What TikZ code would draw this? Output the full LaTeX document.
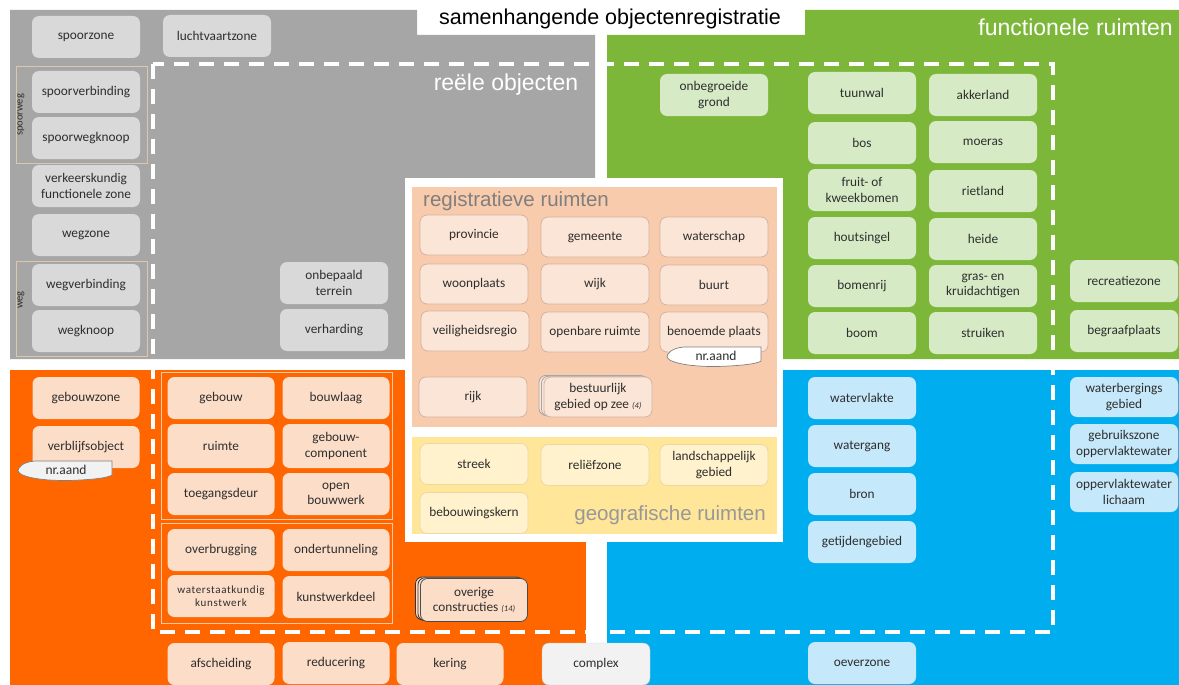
\documentclass[tikz,border=0pt]{standalone}
\usepackage{fontspec}
\setmainfont{Carlito}
\newfontfamily\headfont{Liberation Sans}
\newfontfamily\spacedfont[LetterSpace=6]{Carlito}
\usetikzlibrary{shadows}
\newcommand\countnote[1]{{\fontsize{8.5}{9}\selectfont\itshape #1}}

\definecolor{zGray}{HTML}{A6A6A6}
\definecolor{zGreen}{HTML}{7CB73A}
\definecolor{zOrange}{HTML}{FF6600}
\definecolor{zBlue}{HTML}{00ADEF}
\definecolor{zReg}{HTML}{F8CBAD}
\definecolor{zGeo}{HTML}{FFE699}
\definecolor{cGrayObj}{HTML}{D9D9D9}
\definecolor{cGreenObj}{HTML}{D6EBC5}
\definecolor{cOrangeObj}{HTML}{FCDDC8}
\definecolor{cBlueObj}{HTML}{C5E8FA}
\definecolor{cRegObj}{HTML}{FBE5D6}
\definecolor{cGeoObj}{HTML}{FFF2CC}
\definecolor{cComplex}{HTML}{F2F2F2}
\definecolor{cRegLine}{HTML}{D2B3A2}
\definecolor{cGeoLine}{HTML}{EBD9A4}
\definecolor{cText}{HTML}{2E2E2E}
\definecolor{cHead}{HTML}{7F7F7F}
\definecolor{cGroupGray}{HTML}{DCC6AC}
\definecolor{cGroupOrange}{HTML}{FDC9A4}

\tikzset{
  obj/.style={rounded corners=7pt,minimum width=108pt,minimum height=42pt,inner sep=2pt,
    align=center,text=cText,font=\fontsize{13.3}{15.5}\selectfont},
  grayobj/.style={obj,fill=cGrayObj},
  greenobj/.style={obj,fill=cGreenObj},
  orangeobj/.style={obj,fill=cOrangeObj,minimum width=107pt},
  blueobj/.style={obj,fill=cBlueObj},
  regobj/.style={obj,fill=cRegObj,draw=cRegLine,line width=.8pt,minimum height=40pt},
  geoobj/.style={obj,fill=cGeoObj,draw=cGeoLine,line width=.8pt,minimum height=41pt},
  groupbox/.style={draw,line width=1pt},
  grouplbl/.style={rotate=90,text=cText,font=\fontsize{10.5}{12}\selectfont},
  headlbl/.style={font=\headfont\fontsize{23}{26}\selectfont,inner sep=0pt},
  sublbl/.style={font=\headfont\fontsize{20.5}{24}\selectfont,inner sep=0pt,text=cHead},
  aandtag/.style={draw=gray,line width=.7pt},
  aandtxt/.style={inner sep=0pt,text=cText,font=\fontsize{13.5}{15}\selectfont},
  dashline/.style={draw=white,line width=4pt,dash pattern=on 15pt off 10pt}
}

\begin{document}
\begin{tikzpicture}[x=1pt,y=-1pt]
  \useasboundingbox (0,0) rectangle (1179,685);
  % colour zones
  \fill[zGray] (10,10) -- (417,10) -- (417,35) -- (595,35) -- (595,359) -- (10,359) -- cycle;
  \fill[zGreen] (607,35) -- (805,35) -- (805,10) -- (1179,10) -- (1179,359) -- (607,359) -- cycle;
  \fill[zOrange] (10,370) rectangle (586,685);
  \fill[zBlue] (607,370) rectangle (1179,685);
  \draw[dashline] (153,64) rectangle (1053,632);
  \fill[white] (405,178) rectangle (783,542);
  \fill[zReg] (412,187) rectangle (777,427);
  \fill[zGeo] (412,437) rectangle (777,534);

  % headings
  \node[font=\headfont\fontsize{21.5}{24}\selectfont,inner sep=0pt] (titel) at (610,19) {samenhangende objectenregistratie};
  \node[headlbl,text=white] (reeel) at (506,85) {reële objecten};
  \node[headlbl,text=white,anchor=east] (functioneel) at (1173,27) {functionele ruimten};
  \node[sublbl,anchor=west] (registratief) at (423,201) {registratieve ruimten};
  \node[sublbl,anchor=east,text=cHead!80] (geografisch) at (766,515) {geografische ruimten};

  % groups
  \draw[groupbox,cGroupGray] (16,67) rectangle (147,163);
  \draw[groupbox,cGroupGray] (16,261) rectangle (147,356);
  \draw[groupbox,cGroupOrange] (161,372) rectangle (392,519);
  \draw[groupbox,cGroupOrange] (161,523) rectangle (392,623);
  \node[grouplbl] (spoorweglbl) at (21,115) {spoorweg};
  \node[grouplbl] (weglbl) at (21,300) {weg};

  % reele objecten (grijs)
  \node[grayobj] (spoorzone) at (86,37) {spoorzone};
  \node[grayobj] (luchtvaartzone) at (217,36) {luchtvaartzone};
  \node[grayobj] (spoorverbinding) at (86,92) {spoorverbinding};
  \node[grayobj] (spoorwegknoop) at (86,138) {spoorwegknoop};
  \node[grayobj] (verkeerszone) at (86,186) {verkeerskundig\\functionele zone};
  \node[grayobj] (wegzone) at (86,235) {wegzone};
  \node[grayobj] (wegverbinding) at (86,285) {wegverbinding};
  \node[grayobj] (wegknoop) at (86,331) {wegknoop};
  \node[grayobj] (onbepaald) at (334,283) {onbepaald\\terrein};
  \node[grayobj] (verharding) at (334,330) {verharding};

  % functionele ruimten (groen)
  \node[greenobj] (onbegroeid) at (714,95) {onbegroeide\\grond};
  \node[greenobj] (tuunwal) at (862,93) {tuunwal};
  \node[greenobj] (akkerland) at (983,95) {akkerland};
  \node[greenobj] (bos) at (862,143) {bos};
  \node[greenobj] (moeras) at (983,142) {moeras};
  \node[greenobj] (kweekbomen) at (862,190) {fruit- of\\kweekbomen};
  \node[greenobj] (rietland) at (983,191) {rietland};
  \node[greenobj] (houtsingel) at (862,238) {houtsingel};
  \node[greenobj] (heide) at (983,239) {heide};
  \node[greenobj] (bomenrij) at (862,286) {bomenrij};
  \node[greenobj] (gras) at (983,286) {gras- en\\kruidachtigen};
  \node[greenobj] (boom) at (862,333) {boom};
  \node[greenobj] (struiken) at (983,333) {struiken};
  \node[greenobj] (recreatiezone) at (1124,281) {recreatiezone};
  \node[greenobj] (begraafplaats) at (1124,331) {begraafplaats};

  % registratieve ruimten
  \node[regobj] (provincie) at (474,235) {provincie};
  \node[regobj] (gemeente) at (595,237) {gemeente};
  \node[regobj] (waterschap) at (714,237) {waterschap};
  \node[regobj] (woonplaats) at (474,284) {woonplaats};
  \node[regobj] (wijk) at (595,284) {wijk};
  \node[regobj] (buurt) at (714,285) {buurt};
  \node[regobj] (veiligheidsregio) at (475,331) {veiligheidsregio};
  \node[regobj] (openbareruimte) at (595,332) {openbare ruimte};
  \node[regobj] (benoemdeplaats) at (714,332) {benoemde plaats};
  \node[regobj] (rijk) at (473,397) {rijk};
  \node[regobj,double copy shadow={shadow xshift=-2.5pt,shadow yshift=.8pt,fill=cRegObj,draw=gray!70}]
    (bestuurlijk) at (598,397) {bestuurlijk\\gebied op zee \countnote{(4)}};
  \path[aandtag,fill=white,shift={(761,347)}] (0,0) -- (-77,0) .. controls (-90,1) and (-94,7) .. (-94,10)
    .. controls (-92,17) and (-62,21) .. (-32,19) .. controls (-12,18) and (-3,16) .. (0,14) -- cycle;
  \node[aandtxt] (aandplaats) at (716,356) {nr.aand};

  % geografische ruimten
  \node[geoobj] (streek) at (474,464) {streek};
  \node[geoobj] (reliefzone) at (595,465) {reliëfzone};
  \node[geoobj] (landschap) at (714,465) {landschappelijk\\gebied};
  \node[geoobj] (bebouwingskern) at (474,513) {bebouwingskern};

  % oranje
  \node[orangeobj] (gebouwzone) at (86,398) {gebouwzone};
  \node[orangeobj] (verblijfsobject) at (86,447) {verblijfsobject};
  \path[aandtag,fill=cComplex,shift={(112,461)}] (0,0) -- (-77,0) .. controls (-90,1) and (-94,7) .. (-94,10)
    .. controls (-92,17) and (-62,21) .. (-32,19) .. controls (-12,18) and (-3,16) .. (0,14) -- cycle;
  \node[aandtxt] (aandverblijf) at (66,470) {nr.aand};
  \node[orangeobj] (gebouw) at (221,398) {gebouw};
  \node[orangeobj] (bouwlaag) at (336,398) {bouwlaag};
  \node[orangeobj,minimum height=44pt] (ruimte) at (221,446) {ruimte};
  \node[orangeobj,minimum height=44pt] (gebouwcomp) at (336,446) {gebouw-\\component};
  \node[orangeobj] (toegangsdeur) at (221,494) {toegangsdeur};
  \node[orangeobj] (openbouwwerk) at (336,494) {open\\bouwwerk};
  \node[orangeobj] (overbrugging) at (221,550) {overbrugging};
  \node[orangeobj] (ondertunneling) at (336,550) {ondertunneling};
  \node[orangeobj,font=\spacedfont\fontsize{11}{12.5}\selectfont] (waterstaat) at (221,596) {waterstaatkundig\\kunstwerk};
  \node[orangeobj] (kunstwerkdeel) at (336,597) {kunstwerkdeel};
  \node[orangeobj,draw=black!70,line width=.8pt,minimum height=43pt,
    double copy shadow={shadow xshift=-2.5pt,shadow yshift=.8pt,fill=cOrangeObj,draw=black!80}]
    (overige) at (474,600) {overige\\constructies \countnote{(14)}};
  \node[orangeobj] (afscheiding) at (221,664) {afscheiding};
  \node[orangeobj] (reducering) at (336,663) {reducering};
  \node[orangeobj] (kering) at (450,664) {kering};
  \node[obj,fill=cComplex,draw=gray!40] (complex) at (596,664) {complex};

  % blauw
  \node[blueobj] (watervlakte) at (862,398) {watervlakte};
  \node[blueobj] (watergang) at (862,446) {watergang};
  \node[blueobj] (bron) at (862,494) {bron};
  \node[blueobj] (getijdengebied) at (862,542) {getijdengebied};
  \node[blueobj] (oeverzone) at (862,663) {oeverzone};
  \node[blueobj,minimum height=40pt] (waterberging) at (1124,397) {waterbergings\\gebied};
  \node[blueobj,minimum height=40pt] (gebruikszone) at (1124,444) {gebruikszone\\oppervlaktewater};
  \node[blueobj,minimum height=40pt] (owlichaam) at (1124,492) {oppervlaktewater\\lichaam};
\end{tikzpicture}
\end{document}
